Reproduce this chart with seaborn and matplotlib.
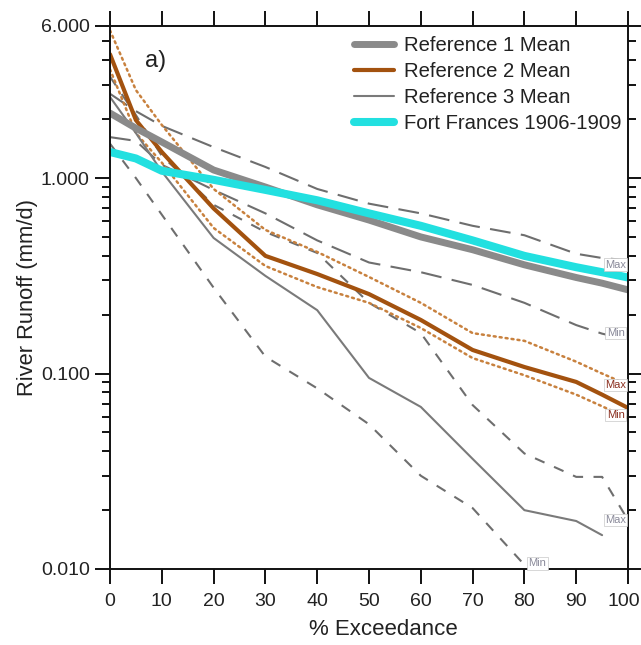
import matplotlib
matplotlib.use("Agg")
import matplotlib.pyplot as plt
import matplotlib.transforms as mtransforms
from matplotlib.lines import Line2D
from matplotlib.ticker import FixedLocator, FixedFormatter, NullFormatter
import seaborn as sns

sns.set_theme(style="ticks")
plt.rcParams["font.family"] = ["Liberation Sans", "DejaVu Sans"]

# Exceedance levels (%)
exceed = [0, 5, 10, 20, 30, 40, 50, 60, 70, 80, 90, 95, 100]

# Flow-duration curves, river runoff in mm/d
ref1_mean = [2.15, 1.80, 1.53, 1.10, 0.90, 0.73, 0.61, 0.50, 0.43, 0.36, 0.31, 0.29, 0.268]
ref1_max = [2.70, 2.20, 1.85, 1.44, 1.14, 0.88, 0.74, 0.66, 0.57, 0.51, 0.41, 0.39, 0.38]
ref1_min = [1.62, 1.55, 1.17, 0.87, 0.66, 0.48, 0.37, 0.33, 0.284, 0.23, 0.177, 0.16, 0.149]

ref2_mean = [4.3, 1.98, 1.36, 0.70, 0.40, 0.323, 0.255, 0.188, 0.132, 0.108, 0.0906, 0.078, 0.0667]
ref2_max = [5.7, 2.82, 1.87, 0.88, 0.543, 0.419, 0.312, 0.23, 0.161, 0.147, 0.115, 0.10, 0.0875]
ref2_min = [3.6, 1.70, 1.20, 0.556, 0.355, 0.277, 0.23, 0.171, 0.12, 0.098, 0.078, 0.068, 0.059]

ref3_mean = [2.6, 1.7, 1.08, 0.494, 0.316, 0.211, 0.095, 0.0675, 0.0366, 0.020, 0.0176, 0.0149]
ref3_max = [3.3, 2.1, 1.3, 0.73, 0.53, 0.414, 0.23, 0.161, 0.069, 0.039, 0.0296, 0.0296, 0.0178]
ref3_min = [1.5, 1.0, 0.65, 0.275, 0.122, 0.084, 0.055, 0.030, 0.0205, 0.0105]

fort_frances = [1.36, 1.26, 1.09, 0.98, 0.87, 0.77, 0.66, 0.57, 0.48, 0.40, 0.35, 0.33, 0.31]

series_labels = ["Reference 1 Mean", "Reference 2 Mean", "Reference 3 Mean",
                 "Fort Frances 1906-1909"]
ytick_vals = [0.01, 0.1, 1.0, 6.0]
ytick_text = ["0.010", "0.100", "1.000", "6.000"]
xtick_vals = [0, 10, 20, 30, 40, 50, 60, 70, 80, 90, 100]

GRAY_THICK = "#8a8a8a"
GRAY_THIN = "#7a7a7a"
GRAY_DASH = "#6e6e6e"
BROWN = "#a3520f"
BROWN_DOT = "#c8813e"
CYAN = "#22e0e0"
LBL_GRAY = "#8a8a9a"
LBL_BROWN = "#8b2f1f"

fig = plt.figure(figsize=(6.41, 6.45), dpi=100)
ax = fig.add_axes([0.17161, 0.11783, 0.80811, 0.84186])
ax.set_yscale("log")


def draw(xs, ys, **kw):
    sns.lineplot(x=xs[:len(ys)], y=ys, ax=ax, legend=False, sort=False,
                 estimator=None, **kw)


LONG = (0, (10, 5))
SHORT = (0, (5, 5))
DOT = (0, (0.8, 1.6))

# envelopes
draw(exceed, ref3_max, color=GRAY_DASH, lw=1.5, linestyle=SHORT)
draw(exceed, ref3_min, color=GRAY_DASH, lw=1.5, linestyle=SHORT)
draw(exceed, ref1_max, color=GRAY_DASH, lw=1.5, linestyle=LONG)
draw(exceed, ref1_min, color=GRAY_DASH, lw=1.5, linestyle=LONG)
draw(exceed, ref2_max, color=BROWN_DOT, lw=1.8, linestyle=DOT, dash_capstyle="round")
draw(exceed, ref2_min, color=BROWN_DOT, lw=1.8, linestyle=DOT, dash_capstyle="round")

# means
draw(exceed, ref3_mean, color=GRAY_THIN, lw=1.5)
draw(exceed, ref2_mean, color=BROWN, lw=3.0)
draw(exceed, ref1_mean, color=GRAY_THICK, lw=5.0)
draw(exceed, fort_frances, color=CYAN, lw=5.8)

# Max / Min tags at the ends of the envelopes
tag_font = dict(fontsize=8, ha="center", va="center", zorder=5)


def tag(x, y, text, color):
    ax.text(x, y, text, color=color,
            bbox=dict(boxstyle="square,pad=0.12", fc="white", ec="#c8c8c8", lw=0.5),
            **tag_font)


tag(97.6, ref1_max[-1] * 0.95, "Max", LBL_GRAY)
tag(97.6, ref1_min[-1] * 1.08, "Min", LBL_GRAY)
tag(97.6, ref2_max[-1], "Max", LBL_BROWN)
tag(97.6, ref2_min[-1] * 1.04, "Min", LBL_BROWN)
tag(97.6, ref3_max[-1], "Max", LBL_GRAY)
tag(82.5, ref3_min[-1] * 1.02, "Min", LBL_GRAY)

ax.set_xlim(0, 100)
ax.set_ylim(0.01, 6.0)

ax.xaxis.set_major_locator(FixedLocator(xtick_vals))
ax.yaxis.set_major_locator(FixedLocator(ytick_vals))
ax.yaxis.set_major_formatter(FixedFormatter(ytick_text))
minor = [m * d for d in (0.01, 0.1) for m in range(2, 10)] + [2, 3, 4, 5]
ax.yaxis.set_minor_locator(FixedLocator(minor))
ax.yaxis.set_minor_formatter(NullFormatter())
ax.xaxis.set_minor_locator(FixedLocator([]))

ax.tick_params(which="both", direction="out", top=True, right=True,
               labeltop=False, labelright=False, color="#111111")
ax.tick_params(which="major", length=10.5, width=1.4, labelsize=14,
               labelcolor="#222222")
ax.tick_params(axis="x", which="major", pad=7)
ax.tick_params(axis="y", which="major", pad=4)
ax.tick_params(which="minor", length=6, width=1.4)
for s in ax.spines.values():
    s.set_linewidth(1.4)
    s.set_color("#111111")
    s.set_visible(True)

# keep the last x tick label inside the canvas
fig.canvas.draw()
last = ax.get_xticklabels()[-1]
last.set_transform(last.get_transform()
                   + mtransforms.ScaledTranslation(-4 / 100, 0, fig.dpi_scale_trans))

ax.set_xlabel("% Exceedance", fontsize=16, color="#222222")
ax.set_ylabel("River Runoff (mm/d)", fontsize=15.8, color="#222222")
ax.xaxis.set_label_coords(0.527, -0.093)
ax.yaxis.set_label_coords(-0.139, 0.5)

ax.text(0.068, 0.935, "a)", transform=ax.transAxes, fontsize=17,
        color="#222222", ha="left", va="center")

handles = [
    Line2D([], [], color=GRAY_THICK, lw=5.0),
    Line2D([], [], color=BROWN, lw=3.0),
    Line2D([], [], color=GRAY_THIN, lw=1.5),
    Line2D([], [], color=CYAN, lw=5.8),
]
ax.legend(handles, series_labels, loc="upper right",
          bbox_to_anchor=(622 / 641, 1 - 36 / 645), bbox_transform=fig.transFigure,
          frameon=False, fontsize=14.6, handlelength=1.97, handletextpad=0.54,
          labelspacing=0.35, borderpad=0, borderaxespad=0, labelcolor="#222222")

fig.savefig("out.png", dpi=100, facecolor="white")
